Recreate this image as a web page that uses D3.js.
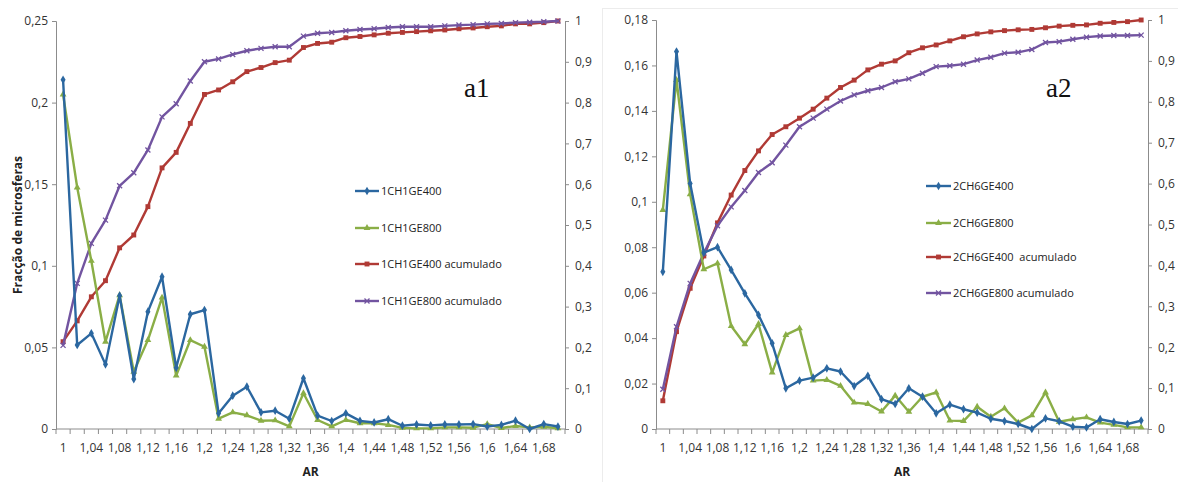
<!DOCTYPE html>
<html>
<head>
<meta charset="utf-8">
<script src="https://cdn.jsdelivr.net/npm/d3@7"></script>
<style>
  body { margin: 0; background: #fff; }
  svg text { font-family: "Open Sans", sans-serif; }
</style>
</head>
<body>
<div id="draw"></div>
<script>
// categorias AR (1,00 .. 1,70)
var ar = [1.00, 1.02, 1.04, 1.06, 1.08, 1.10, 1.12, 1.14, 1.16, 1.18, 1.20, 1.22,
          1.24, 1.26, 1.28, 1.30, 1.32, 1.34, 1.36, 1.38, 1.40, 1.42, 1.44, 1.46,
          1.48, 1.50, 1.52, 1.54, 1.56, 1.58, 1.60, 1.62, 1.64, 1.66, 1.68, 1.70];

// a1
var a1_400 = [0.214, 0.0515, 0.0586, 0.0396, 0.0817, 0.0306, 0.0719, 0.0933, 0.0375, 0.0703, 0.0729, 0.0096,
              0.0204, 0.0259, 0.0102, 0.0112, 0.0063, 0.0311, 0.0082, 0.0049, 0.0096, 0.0050, 0.0040, 0.0060,
              0.0020, 0.0028, 0.0022, 0.0028, 0.0028, 0.0030, 0.0015, 0.0025, 0.0051, 0.0000, 0.0030, 0.0015];
var a1_800 = [0.205, 0.148, 0.103, 0.0535, 0.082, 0.0351, 0.0545, 0.0805, 0.0327, 0.0545, 0.0504, 0.0063,
              0.0102, 0.0084, 0.0051, 0.0053, 0.0016, 0.0219, 0.0055, 0.0016, 0.0055, 0.0035, 0.0035, 0.0025,
              0.0007, 0.0004, 0.0004, 0.0010, 0.0010, 0.0008, 0.0030, 0.0006, 0.0018, 0.0010, 0.0014, 0.0004];
var a1_400_acum = [0.214, 0.265, 0.324, 0.3635, 0.444, 0.4755, 0.545, 0.640, 0.678, 0.749, 0.820, 0.831,
                   0.851, 0.876, 0.886, 0.898, 0.904, 0.935, 0.945, 0.948, 0.959, 0.962, 0.966, 0.970,
                   0.972, 0.974, 0.976, 0.978, 0.981, 0.983, 0.986, 0.988, 0.993, 0.993, 0.996, 1.0];
var a1_800_acum = [0.205, 0.357, 0.455, 0.512, 0.596, 0.628, 0.684, 0.765, 0.797, 0.853, 0.900, 0.907,
                   0.918, 0.927, 0.933, 0.937, 0.937, 0.963, 0.970, 0.972, 0.976, 0.979, 0.981, 0.984,
                   0.986, 0.986, 0.986, 0.988, 0.990, 0.991, 0.993, 0.994, 0.996, 0.997, 0.998, 1.0];

// a2
var a2_400 = [0.0692, 0.1661, 0.108, 0.0776, 0.080, 0.070, 0.0597, 0.0502, 0.0377, 0.0179, 0.0213, 0.0226,
              0.0267, 0.0253, 0.0189, 0.0234, 0.0131, 0.0110, 0.0179, 0.0142, 0.0069, 0.0107, 0.0087, 0.0072,
              0.0045, 0.0035, 0.0022, 0.0000, 0.0047, 0.0034, 0.0010, 0.0007, 0.0043, 0.0031, 0.0022, 0.0037];
var a2_800 = [0.0964, 0.1536, 0.1033, 0.0703, 0.0729, 0.0453, 0.0373, 0.0462, 0.0248, 0.0414, 0.0443, 0.0213,
              0.0216, 0.0190, 0.0116, 0.0110, 0.0077, 0.0147, 0.0076, 0.0142, 0.0161, 0.0037, 0.0035, 0.0098,
              0.0054, 0.0091, 0.0028, 0.0060, 0.0161, 0.0032, 0.0043, 0.0051, 0.0028, 0.0018, 0.0007, 0.0007];
var a2_400_acum = [0.069, 0.238, 0.344, 0.423, 0.504, 0.572, 0.632, 0.680, 0.720, 0.739, 0.760, 0.782,
                   0.809, 0.835, 0.853, 0.878, 0.892, 0.900, 0.920, 0.932, 0.939, 0.949, 0.959, 0.966,
                   0.971, 0.974, 0.976, 0.977, 0.981, 0.985, 0.987, 0.988, 0.992, 0.994, 0.996, 1.0];
var a2_800_acum = [0.097, 0.250, 0.356, 0.430, 0.497, 0.543, 0.583, 0.627, 0.651, 0.694, 0.739, 0.760,
                   0.782, 0.802, 0.817, 0.827, 0.835, 0.849, 0.856, 0.870, 0.886, 0.888, 0.892, 0.902,
                   0.909, 0.919, 0.921, 0.928, 0.945, 0.947, 0.953, 0.958, 0.961, 0.962, 0.962, 0.963];

// ticks
var a1_left_ticks = [0, 0.05, 0.1, 0.15, 0.2, 0.25];
var a2_left_ticks = [0, 0.02, 0.04, 0.06, 0.08, 0.1, 0.12, 0.14, 0.16, 0.18];
var right_ticks = [0, 0.1, 0.2, 0.3, 0.4, 0.5, 0.6, 0.7, 0.8, 0.9, 1];

var names_a1 = ["1CH1GE400", "1CH1GE800", "1CH1GE400 acumulado", "1CH1GE800 acumulado"];
var names_a2 = ["2CH6GE400", "2CH6GE800", "2CH6GE400  acumulado", "2CH6GE800 acumulado"];

var colors = ["#2b67a0", "#8aae46", "#b03a35", "#7254a0"];
var markers = ["diamond", "triangle", "square", "x"];

var fmt = function (v) { return String(+v.toFixed(2)).replace(".", ","); };

var svg = d3.select("#draw").append("svg")
    .attr("width", 1178)
    .attr("height", 482);

// borda do grafico a2
svg.append("rect")
    .attr("x", 602.5).attr("y", 8.5).attr("width", 580).attr("height", 480)
    .attr("fill", "none").attr("stroke", "#ececec");

function marker(g, type, color) {
    if (type === "x") {
        g.append("path").attr("d", "M-2.5,-2.5L2.5,2.5M-2.5,2.5L2.5,-2.5")
            .attr("stroke", color).attr("stroke-width", 1.3).attr("fill", "none");
    } else {
        var sym = {diamond: d3.symbolDiamond, triangle: d3.symbolTriangle, square: d3.symbolSquare}[type];
        var size = {diamond: 22, triangle: 20, square: 24}[type];
        g.append("path").attr("d", d3.symbol(sym, size)()).attr("fill", color);
    }
}

function draw_panel(p) {
    var x = d3.scaleBand().domain(ar).range([p.x0, p.x1]).padding(0);
    var yL = d3.scaleLinear().domain([0, p.leftMax]).range([p.yBottom, p.yTop]);
    var yR = d3.scaleLinear().domain([0, 1]).range([p.yBottom, p.yTop]);
    var cx = function (d, i) { return x(ar[i]) + x.bandwidth() / 2; };

    var axisColor = "#8c8c8c";
    // eixo esquerdo
    var gl = svg.append("g").attr("transform", "translate(" + p.x0 + ",0)")
        .call(d3.axisLeft(yL).tickValues(p.leftTicks).tickFormat(fmt).tickSizeOuter(0).tickSize(4).tickPadding(4));
    // eixo direito
    var gr = svg.append("g").attr("transform", "translate(" + p.x1 + ",0)")
        .call(d3.axisRight(yR).tickValues(right_ticks).tickFormat(fmt).tickSizeOuter(0).tickSize(4).tickPadding(6));
    // eixo x, marcas nas fronteiras das categorias
    var gx = svg.append("g").attr("transform", "translate(0," + p.yBottom + ")");
    gx.append("line").attr("x1", p.x0).attr("x2", p.x1).attr("stroke", axisColor);
    gx.selectAll("line.tk")
        .data(ar.concat(["end"]))
        .enter().append("line")
        .attr("class", "tk")
        .attr("x1", function (d, i) { return p.x0 + i * x.bandwidth(); })
        .attr("x2", function (d, i) { return p.x0 + i * x.bandwidth(); })
        .attr("y1", 0).attr("y2", 5)
        .attr("stroke", axisColor);
    gx.selectAll("text")
        .data(ar.filter(function (d, i) { return i % 2 === 0; }))
        .enter().append("text")
        .attr("x", function (d) { return x(d) + x.bandwidth() / 2; })
        .attr("y", 23)
        .attr("text-anchor", "middle")
        .attr("font-size", "12px")
        .attr("fill", "#333")
        .text(fmt);

    [gl, gr].forEach(function (g) {
        g.select(".domain").attr("stroke", axisColor);
        g.selectAll(".tick line").attr("stroke", axisColor);
        g.selectAll(".tick text").attr("fill", "#333").attr("font-size", "12px")
            .attr("font-family", "'Open Sans', sans-serif");
    });

    // series
    var series = [
        {v: p.s[0], y: yL}, {v: p.s[1], y: yL}, {v: p.s[2], y: yR}, {v: p.s[3], y: yR}
    ];
    // ordem de desenho: acumulados primeiro
    [2, 3, 1, 0].forEach(function (k) {
        var s = series[k];
        var line = d3.line()
            .x(cx)
            .y(function (d) { return s.y(d); });
        svg.append("path")
            .datum(s.v)
            .attr("d", line)
            .attr("fill", "none")
            .attr("stroke", colors[k])
            .attr("stroke-width", 2.4)
            .attr("stroke-linejoin", "round");
        svg.append("g").selectAll("g")
            .data(s.v)
            .enter().append("g")
            .attr("transform", function (d, i) { return "translate(" + cx(d, i) + "," + s.y(d) + ")"; })
            .each(function () { marker(d3.select(this), markers[k], colors[k]); });
    });

    // legenda
    var lg = svg.append("g");
    p.names.forEach(function (n, k) {
        var yy = p.legY[k];
        lg.append("line")
            .attr("x1", p.legX).attr("x2", p.legX + p.legW)
            .attr("y1", yy).attr("y2", yy)
            .attr("stroke", colors[k]).attr("stroke-width", 2.4);
        var mg = lg.append("g").attr("transform", "translate(" + (p.legX + p.legW / 2) + "," + yy + ")");
        marker(mg, markers[k], colors[k]);
        lg.append("text")
            .attr("x", p.legX + p.legW + 2)
            .attr("y", yy + 4)
            .attr("font-size", "11px")
            .attr("fill", "#222")
            .style("white-space", "pre")
            .text(n);
    });

    // rotulo a1/a2
    svg.append("text")
        .attr("x", p.labX).attr("y", 97)
        .style("font-family", "'Liberation Serif', serif")
        .attr("font-size", "27px")
        .attr("fill", "#111")
        .text(p.label);

    // titulo eixo x
    svg.append("text")
        .attr("x", (p.x0 + p.x1) / 2).attr("y", 476)
        .attr("text-anchor", "middle")
        .attr("font-size", "12px")
        .attr("font-weight", "bold")
        .attr("fill", "#222")
        .text("AR");
}

draw_panel({
    x0: 56, x1: 565, yTop: 21, yBottom: 429, leftMax: 0.25, leftTicks: a1_left_ticks,
    s: [a1_400, a1_800, a1_400_acum, a1_800_acum], names: names_a1,
    legX: 355, legW: 24, legY: [191, 228, 264, 301], labX: 464, label: "a1"
});
draw_panel({
    x0: 656, x1: 1148, yTop: 20, yBottom: 429, leftMax: 0.18, leftTicks: a2_left_ticks,
    s: [a2_400, a2_800, a2_400_acum, a2_800_acum], names: names_a2,
    legX: 926, legW: 25, legY: [186, 223, 257, 293], labX: 1046, label: "a2"
});

// titulo eixo y
svg.append("text")
    .attr("transform", "translate(22,225) rotate(-90)")
    .attr("text-anchor", "middle")
    .attr("font-size", "12px")
    .attr("font-weight", "bold")
    .attr("fill", "#222")
    .text("Fracção de microsferas");
</script>
</body>
</html>
